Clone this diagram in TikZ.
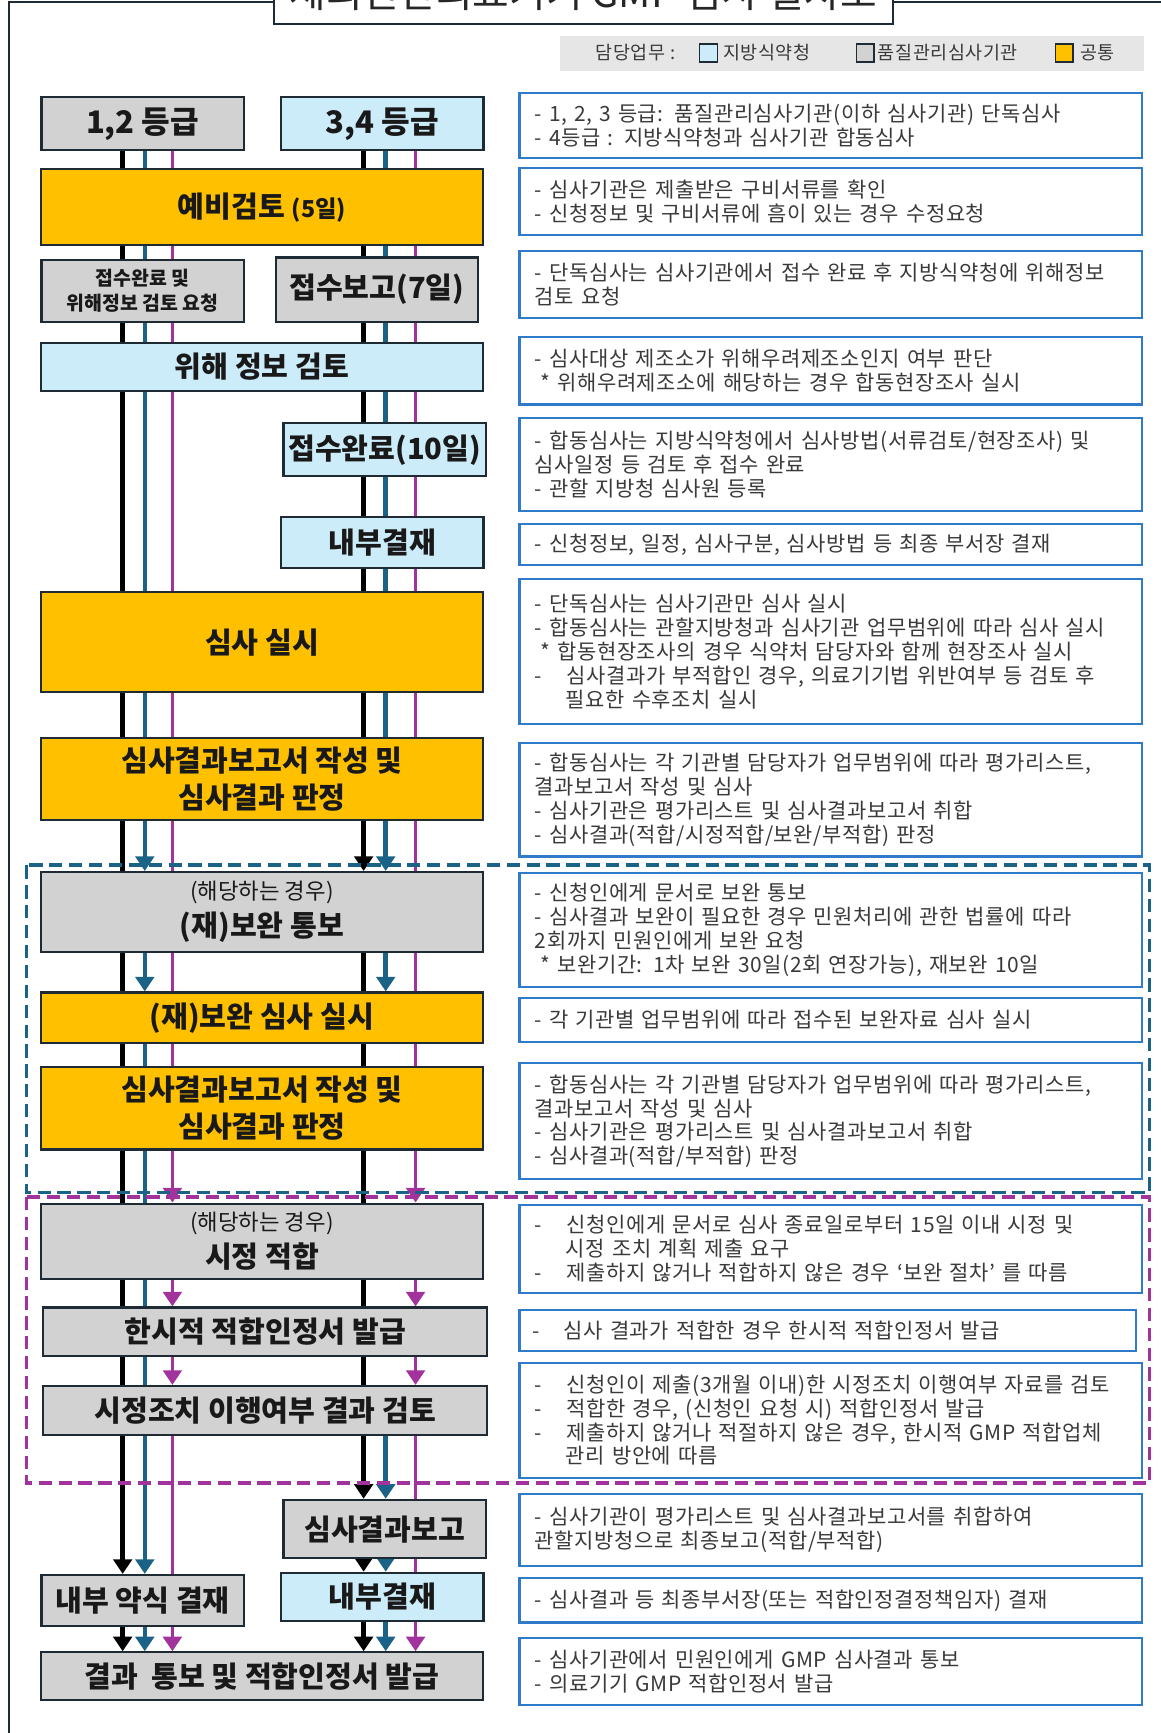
\documentclass[tikz,border=0pt]{standalone}
\usepackage{fontspec}
\setmainfont{Noto Sans CJK KR}
\newfontfamily\notefam[LetterSpace=3]{Noto Sans CJK KR}
\usetikzlibrary{fit,arrows.meta,backgrounds}

\definecolor{orng}{HTML}{FFC000}
\definecolor{gry}{HTML}{D2D2D2}
\definecolor{lblu}{HTML}{CCECFA}
\definecolor{edge}{HTML}{1E2B35}
\definecolor{nblue}{HTML}{2F7BC9}
\definecolor{tealln}{HTML}{1B6386}
\definecolor{purp}{HTML}{A2339C}
\definecolor{txtg}{HTML}{3A3A3A}
\definecolor{legbg}{HTML}{E6E6E6}

\newcommand\boxfont{\fontsize{15}{19}\selectfont\bfseries}
\newcommand\notefont{\notefam\fontsize{10.8}{12.3}\selectfont}
\newcommand\smallfont{\fontsize{11.5}{14}\selectfont\mdseries}

\tikzset{
  stepbox/.style={draw=edge, line width=1.1pt, inner sep=0pt, font=\boxfont, text=black!90, align=center},
  gbox/.style={stepbox, fill=gry},
  bbox/.style={stepbox, fill=lblu},
  obox/.style={stepbox, fill=orng},
  wide/.style={minimum width=8cm},
  half/.style={minimum width=3.66cm},
  note/.style={draw=nblue, line width=1.1pt, inner sep=0pt, fill=white, font=\notefont, text=txtg, align=left, minimum width=11.26cm, text width=10.7cm},
  legsq/.style={draw=edge, line width=0.8pt, minimum width=0.32cm, minimum height=0.32cm, inner sep=0pt},
  legtxt/.style={font=\notefam\fontsize{9.5}{11}\selectfont, text=txtg, inner sep=0pt},
  blk/.style={line width=2.3pt, black},
  tl/.style={line width=2.3pt, tealln},
  pp/.style={line width=1.9pt, purp},
  arr/.style={-{Triangle[width=9.5pt,length=7.5pt]}},
  dashbox/.style={line width=2pt, dash pattern=on 0.24cm off 0.12cm},
}

\begin{document}
\begin{tikzpicture}[x=0.02cm,y=-0.02cm]
  \useasboundingbox (0,0) rectangle (1050,1568);

  % title and legend
  \node[draw=edge, line width=1.1pt, fill=white, inner sep=0pt, fit={(248,-40)(808,22)}] (ttl) {};
  \node[font=\fontsize{20.5}{24}\selectfont, text=black!85] (ttltxt) at (528,-7) {체외진단의료기기 GMP 심사 절차도};
  \node[fill=legbg, inner sep=0pt, fit={(507,33)(1035,64)}] (leg) {};
  \node[legtxt] (legh) at (575,48) {담당업무 :};
  \node[legsq, fill=lblu] (lq1) at (641,48) {};
  \node[legtxt, anchor=west] (lt1) at (654,48) {지방식약청};
  \node[legsq, fill=gry] (lq2) at (783,48) {};
  \node[legtxt, anchor=west] (lt2) at (794,48) {품질관리심사기관};
  \node[legsq, fill=orng] (lq3) at (963,48) {};
  \node[legtxt, anchor=west] (lt3) at (977,48) {공통};

  % column positions
  \coordinate (cLk) at (111,0);
  \coordinate (cLt) at (131,0);
  \coordinate (cLp) at (156,0);
  \coordinate (cRk) at (329,0);
  \coordinate (cRt) at (349,0);
  \coordinate (cRp) at (376,0);

  % steps
  \node[gbox, half, minimum height=0.96cm, font=\fontsize{16}{19}\selectfont\bfseries] (g12) at (129,112) {1,2 등급};
  \node[bbox, half, minimum height=0.96cm, font=\fontsize{16}{19}\selectfont\bfseries] (g34) at (346,112) {3,4 등급};
  \node[obox, wide, minimum height=1.38cm] (pre) at (237,187.5) {예비검토 {\fontsize{12}{14}\selectfont(5일)}};
  \node[gbox, half, minimum height=1.12cm, font=\fontsize{10}{13}\selectfont\bfseries] (rcv1) at (129,263) {접수완료 및\\위해정보 검토 요청};
  \node[gbox, half, minimum height=1.16cm] (rcv2) at (341,262) {접수보고(7일)};
  \node[bbox, wide, minimum height=0.88cm] (haz) at (237,332) {위해 정보 검토};
  \node[bbox, half, minimum height=0.96cm] (rcv3) at (348,407) {접수완료(10일)};
  \node[bbox, half, minimum height=0.92cm] (app1) at (346,491) {내부결재};
  \node[obox, wide, minimum height=1.8cm] (aud) at (237,581) {심사 실시};
  \node[obox, wide, minimum height=1.48cm] (rep1) at (237,705) {심사결과보고서 작성 및\\심사결과 판정};
  \node[gbox, wide, minimum height=1.44cm] (sup1) at (237,825) {{\smallfont (해당하는 경우)}\\(재)보완 통보};
  \node[obox, wide, minimum height=0.92cm] (sup2) at (237,921) {(재)보완 심사 실시};
  \node[obox, wide, minimum height=1.5cm] (rep2) at (237,1002.5) {심사결과보고서 작성 및\\심사결과 판정};
  \node[gbox, wide, minimum height=1.36cm] (cor) at (237,1123) {{\smallfont (해당하는 경우)}\\시정 적합};
  \node[gbox, minimum width=8.04cm, minimum height=0.88cm] (tmp) at (240,1205) {한시적 적합인정서 발급};
  \node[gbox, minimum width=8.04cm, minimum height=0.88cm] (chk) at (240,1276) {시정조치 이행여부 결과 검토};
  \node[gbox, half, minimum height=1.06cm] (fin) at (348,1383.5) {심사결과보고};
  \node[gbox, half, minimum height=0.92cm] (brf) at (129,1448) {내부 약식 결재};
  \node[bbox, half, minimum height=0.88cm] (app2) at (346,1445) {내부결재};
  \node[gbox, wide, minimum height=0.86cm] (out) at (237,1516.5) {결과\ \ 통보 및 적합인정서 발급};

  % notes
  \node[note, minimum height=1.18cm] (n1) at (751.5,113.5) {- 1, 2, 3 등급: 품질관리심사기관(이하 심사기관) 단독심사\\- 4등급 : 지방식약청과 심사기관 합동심사};
  \node[note, minimum height=1.22cm] (n2) at (751.5,182.5) {- 심사기관은 제출받은 구비서류를 확인\\- 신청정보 및 구비서류에 흠이 있는 경우 수정요청};
  \node[note, minimum height=1.22cm] (n3) at (751.5,257.5) {- 단독심사는 심사기관에서 접수 완료 후 지방식약청에 위해정보\\검토 요청};
  \node[note, minimum height=1.22cm] (n4) at (751.5,335.5) {- 심사대상 제조소가 위해우려제조소인지 여부 판단\\\hspace*{0.1cm}* 위해우려제조소에 해당하는 경우 합동현장조사 실시};
  \node[note, minimum height=1.68cm] (n5) at (751.5,420) {- 합동심사는 지방식약청에서 심사방법(서류검토/현장조사) 및\\심사일정 등 검토 후 접수 완료\\- 관할 지방청 심사원 등록};
  \node[note, minimum height=0.74cm] (n6) at (751.5,492.5) {- 신청정보, 일정, 심사구분, 심사방법 등 최종 부서장 결재};
  \node[note, minimum height=2.62cm] (n7) at (751.5,589.5) {- 단독심사는 심사기관만 심사 실시\\- 합동심사는 관할지방청과 심사기관 업무범위에 따라 심사 실시\\\hspace*{0.1cm}* 합동현장조사의 경우 식약처 담당자와 함께 현장조사 실시\\-\hspace{0.44cm}심사결과가 부적합인 경우, 의료기기법 위반여부 등 검토 후\\\hspace*{0.56cm}필요한 수후조치 실시};
  \node[note, minimum height=2.06cm] (n8) at (751.5,723.5) {- 합동심사는 각 기관별 담당자가 업무범위에 따라 평가리스트,\\결과보고서 작성 및 심사\\- 심사기관은 평가리스트 및 심사결과보고서 취합\\- 심사결과(적합/시정적합/보완/부적합) 판정};
  \node[note, minimum height=2.06cm] (n9) at (751.5,841.5) {- 신청인에게 문서로 보완 통보\\- 심사결과 보완이 필요한 경우 민원처리에 관한 법률에 따라\\2회까지 민원인에게 보완 요청\\\hspace*{0.1cm}* 보완기간: 1차 보완 30일(2회 연장가능), 재보완 10일};
  \node[note, minimum height=0.8cm] (n10) at (751.5,923) {- 각 기관별 업무범위에 따라 접수된 보완자료 심사 실시};
  \node[note, minimum height=2.1cm] (n11) at (751.5,1014.5) {- 합동심사는 각 기관별 담당자가 업무범위에 따라 평가리스트,\\결과보고서 작성 및 심사\\- 심사기관은 평가리스트 및 심사결과보고서 취합\\- 심사결과(적합/부적합) 판정};
  \node[note, minimum height=1.6cm] (n12) at (751.5,1130) {-\hspace{0.44cm}신청인에게 문서로 심사 종료일로부터 15일 이내 시정 및\\\hspace*{0.56cm}시정 조치 계획 제출 요구\\-\hspace{0.44cm}제출하지 않거나 적합하지 않은 경우 ‘보완 절차’ 를 따름};
  \node[note, minimum width=11.16cm, minimum height=0.74cm] (n13) at (749,1203.5) {-\hspace{0.44cm}심사 결과가 적합한 경우 한시적 적합인정서 발급};
  \node[note, minimum height=2.08cm] (n14) at (751.5,1285) {-\hspace{0.44cm}신청인이 제출(3개월 이내)한 시정조치 이행여부 자료를 검토\\-\hspace{0.44cm}적합한 경우, (신청인 요청 시) 적합인정서 발급\\-\hspace{0.44cm}제출하지 않거나 적절하지 않은 경우, 한시적 GMP 적합업체\\\hspace*{0.56cm}관리 방안에 따름};
  \node[note, minimum height=1.3cm] (n15) at (751.5,1384.5) {- 심사기관이 평가리스트 및 심사결과보고서를 취합하여\\관할지방청으로 최종보고(적합/부적합)};
  \node[note, minimum height=0.8cm] (n16) at (751.5,1448) {- 심사결과 등 최종부서장(또는 적합인정결정책임자) 결재};
  \node[note, minimum height=1.22cm] (n17) at (751.5,1512.5) {- 심사기관에서 민원인에게 GMP 심사결과 통보\\- 의료기기 GMP 적합인정서 발급};

  \begin{scope}[on background layer]
    % frame
    \draw[edge, line width=0.9pt] (8,1600) -- (8,2) -- (1100,2);
    % left group
    \draw[blk, arr] (g12.south -| cLk) -- (brf.north -| cLk);
    \draw[blk, arr] (brf.south -| cLk) -- (out.north -| cLk);
    \draw[tl, arr] (g12.south -| cLt) -- (sup1.north -| cLt);
    \draw[tl, arr] (sup1.south -| cLt) -- (sup2.north -| cLt);
    \draw[tl, arr] (sup2.south -| cLt) -- (brf.north -| cLt);
    \draw[tl, arr] (brf.south -| cLt) -- (out.north -| cLt);
    \draw[pp, arr] (g12.south -| cLp) -- (cor.north -| cLp);
    \draw[pp, arr] (cor.south -| cLp) -- (tmp.north -| cLp);
    \draw[pp, arr] (tmp.south -| cLp) -- (chk.north -| cLp);
    \draw[pp] (chk.south -| cLp) -- (brf.north -| cLp);
    \draw[pp, arr] (brf.south -| cLp) -- (out.north -| cLp);
    % right group
    \draw[blk, arr] (g34.south -| cRk) -- (sup1.north -| cRk);
    \draw[blk, arr] (sup1.south -| cRk) -- (fin.north -| cRk);
    \draw[blk, arr] (fin.south -| cRk) -- (app2.north -| cRk);
    \draw[blk, arr] (app2.south -| cRk) -- (out.north -| cRk);
    \draw[tl, arr] (g34.south -| cRt) -- (sup1.north -| cRt);
    \draw[tl, arr] (sup1.south -| cRt) -- (sup2.north -| cRt);
    \draw[tl, arr] (chk.south -| cRt) -- (fin.north -| cRt);
    \draw[tl, arr] (fin.south -| cRt) -- (app2.north -| cRt);
    \draw[tl, arr] (app2.south -| cRt) -- (out.north -| cRt);
    \draw[pp, arr] (g34.south -| cRp) -- (cor.north -| cRp);
    \draw[pp, arr] (cor.south -| cRp) -- (tmp.north -| cRp);
    \draw[pp, arr] (tmp.south -| cRp) -- (chk.north -| cRp);
    \draw[pp] (chk.south -| cRp) -- (app2.north -| cRp);
    \draw[pp, arr] (app2.south -| cRp) -- (out.north -| cRp);
    % dashed groups
    \draw[dashbox, tealln] (24,783) rectangle (1040,1079);
    \draw[dashbox, purp] (24,1083) rectangle (1040,1342);
  \end{scope}
\end{tikzpicture}
\end{document}
